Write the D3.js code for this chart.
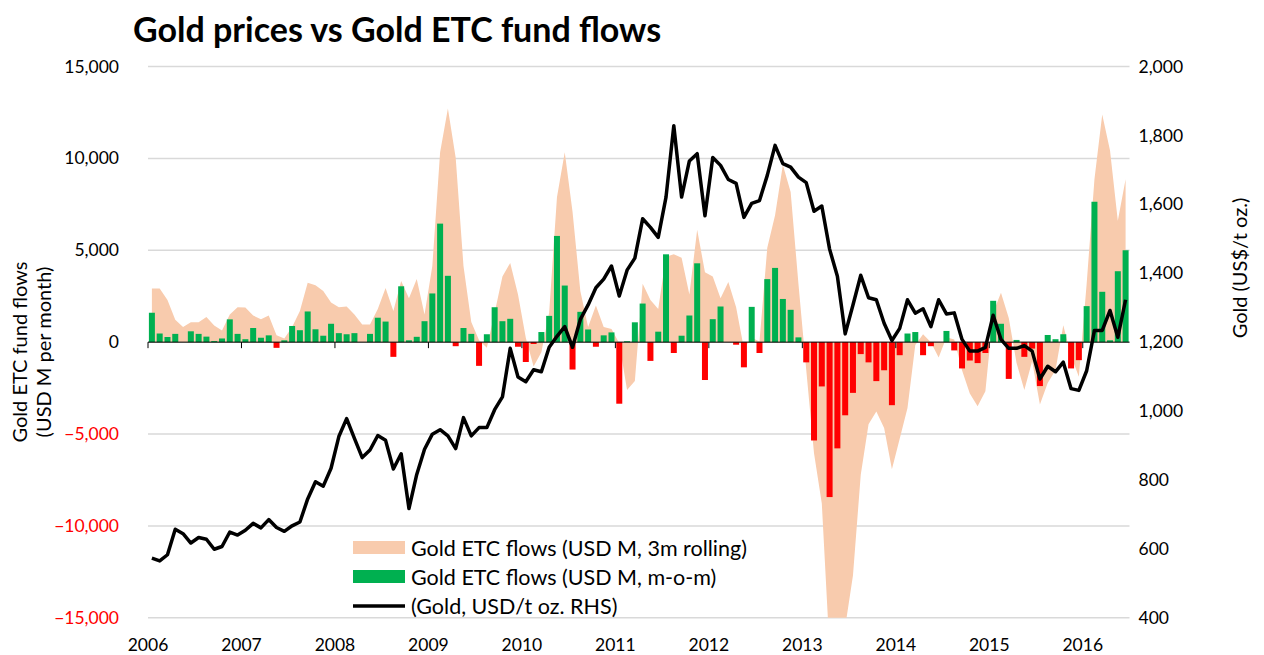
<!DOCTYPE html>
<html>
<head>
<meta charset="utf-8">
<script src="https://cdn.jsdelivr.net/npm/d3@7"></script>
<style>
  body { margin: 0; background: #fff; }
  svg { font-family: Lato, "Open Sans", sans-serif; }
</style>
</head>
<body>
<svg id="chart" width="1264" height="655"></svg>
<script>
// monthly data, Jan 2006 - Jun 2016
const years = ["2006", "2007", "2008", "2009", "2010", "2011", "2012", "2013", "2014", "2015", "2016"];

// Gold ETC flows, USD M, month on month
const flowsMoM = [
  1600, 470, 280, 450, 0, 590, 450, 300, 60, 200, 1240, 450,
  160, 770, 240, 370, -310, 100, 880, 650, 1670, 700, 350, 1000,
  490, 430, 490, 0, 450, 1330, 1120, -800, 3040, 100, 290, 1140,
  2650, 6450, 3610, -220, 770, 450, -1290, 430, 1900, 1140, 1270, -250,
  -1080, -100, 550, 1430, 5780, 3080, -1490, 1650, 690, -250, 370, 530,
  -3350, 50, 1080, 2100, -1020, 570, 4780, -590, 350, 1450, 4290, -2060,
  1250, 1940, 0, -140, -1370, 1920, -590, 3430, 4040, 2350, 1760, 260,
  -1100, -5350, -2410, -8430, -5780, -3980, -2760, -650, -1100, -2120, -1530, -3430,
  -710, 470, 550, -710, -220, 0, 610, -450, -1430, -1000, -1140, -590,
  2250, 1000, -2000, 120, -800, -350, -2390, 390, 160, 430, -1430, -980,
  1960, 7640, 2740, 100, 3860, 5000
];

// Gold ETC flows, USD M, 3m rolling
const flowsRolling = [
  2920, 2920, 2290, 1220, 820, 1080, 1080, 1370, 900, 630, 1510, 1900,
  1880, 1450, 1250, 1450, 370, 200, 820, 1700, 3230, 3100, 2780, 2160,
  1900, 1940, 1510, 960, 960, 1800, 2940, 1700, 3330, 2390, 3430, 1510,
  4150, 10330, 12720, 10030, 4150, 1100, 100, -300, 1600, 3570, 4310, 2590,
  240, -1330, -550, 1610, 7880, 10330, 7100, 2780, 820, 2000, 820, 720,
  -60, -2610, -2120, 3180, 2290, 1800, 4650, 4780, 4590, 2590, 6120, 3800,
  3570, 2390, 3270, 1900, -350, 240, 40, 5140, 6900, 9640, 8170, 3180,
  -1500, -6040, -8780, -16800, -17000, -15500, -12700, -7210, -4470, -3780, -4670, -6920,
  -5250, -3590, -160, 430, 0, -840, 270, 140, -1530, -2800, -3490, -2670,
  1610, 2690, 1310, -1140, -2610, -1040, -3390, -2220, -1530, 920, -750, -1880,
  3180, 8860, 12390, 10430, 6610, 8860
];

// Gold price, USD/t oz.
const goldPrice = [
  573, 565, 583, 657, 644, 617, 633, 628, 599, 607, 649, 640,
  654, 674, 661, 685, 662, 651, 667, 678, 745, 795, 782, 834,
  926, 978, 921, 865, 887, 929, 915, 832, 876, 717, 816, 889,
  933, 946, 928, 891, 981, 928, 952, 952, 1004, 1041, 1182, 1099,
  1085, 1120, 1114, 1185, 1217, 1245, 1185, 1266, 1308, 1358, 1383, 1421,
  1334, 1409, 1444, 1558, 1533, 1504, 1621, 1828, 1621, 1726, 1747, 1567,
  1736, 1713, 1672, 1661, 1562, 1603, 1611, 1684, 1771, 1718, 1708, 1679,
  1663, 1580, 1595, 1470, 1391, 1224, 1308, 1394, 1329, 1323, 1255, 1205,
  1240, 1323, 1284, 1297, 1245, 1323, 1282, 1285, 1208, 1174, 1174, 1185,
  1278, 1208, 1182, 1182, 1190, 1174, 1093, 1130, 1114, 1142, 1065, 1060,
  1117, 1234, 1234, 1292, 1214, 1323
];

const flowTicks = [15000, 10000, 5000, 0, -5000, -10000, -15000];
const goldTicks = [2000, 1800, 1600, 1400, 1200, 1000, 800, 600, 400];

const legendItems = ["Gold ETC flows (USD M, 3m rolling)", "Gold ETC flows (USD M, m-o-m)", "(Gold, USD/t oz. RHS)"];

const months = d3.timeMonth.range(new Date(2006, 0, 1), new Date(2016, 6, 1));
const rows = months.map((m, i) => ({ month: m, i: i, mom: flowsMoM[i], roll: flowsRolling[i], gold: goldPrice[i] }));

const svg = d3.select("#chart");
const plotLeft = 148, plotRight = 1129.5, plotTop = 66.5, plotBottom = 617.8;
const pad = 0.23;

const x = d3.scaleBand()
  .domain(rows.map(d => d.i))
  .range([plotLeft, plotRight])
  .paddingInner(pad)
  .paddingOuter(pad / 2);
const boundary = i => x(i) - x.step() * pad / 2;
const cx = i => x(i) + x.bandwidth() / 2;

const yFlow = d3.scaleLinear().domain([-15000, 15000]).range([plotBottom, plotTop]);
const yGold = d3.scaleLinear().domain([400, 2000]).range([plotBottom, plotTop]);

svg.append("defs").append("clipPath").attr("id", "plot")
  .append("rect").attr("x", plotLeft).attr("y", plotTop)
  .attr("width", plotRight - plotLeft).attr("height", plotBottom - plotTop);

// gridlines
svg.append("g")
  .selectAll("line")
  .data(flowTicks)
  .join("line")
  .attr("x1", plotLeft).attr("x2", plotRight)
  .attr("y1", d => yFlow(d)).attr("y2", d => yFlow(d))
  .attr("stroke", "#d9d9d9").attr("stroke-width", 1.5);

// 3m rolling area
const area = d3.area()
  .x(d => cx(d.i))
  .y0(yFlow(0))
  .y1(d => yFlow(d.roll));
svg.append("path")
  .datum(rows)
  .attr("clip-path", "url(#plot)")
  .attr("fill", "#f8cbad")
  .attr("d", area);

// m-o-m bars
svg.append("g")
  .selectAll("rect")
  .data(rows)
  .join("rect")
  .attr("x", d => x(d.i))
  .attr("width", x.bandwidth())
  .attr("y", d => yFlow(Math.max(0, d.mom)))
  .attr("height", d => Math.abs(yFlow(d.mom) - yFlow(0)))
  .attr("fill", d => d.mom < 0 ? "#ff0000" : "#00b050");

// zero axis with year ticks
const zero = svg.append("g");
zero.append("line")
  .attr("x1", plotLeft).attr("x2", plotRight)
  .attr("y1", yFlow(0)).attr("y2", yFlow(0))
  .attr("stroke", "#000").attr("stroke-width", 1);
zero.selectAll("line.tick")
  .data(years)
  .join("line")
  .attr("class", "tick")
  .attr("x1", (d, k) => boundary(k * 12)).attr("x2", (d, k) => boundary(k * 12))
  .attr("y1", yFlow(0)).attr("y2", yFlow(0) + 6)
  .attr("stroke", "#000").attr("stroke-width", 1);

// gold line
const line = d3.line()
  .x(d => cx(d.i))
  .y(d => yGold(d.gold));
svg.append("path")
  .datum(rows)
  .attr("fill", "none")
  .attr("stroke", "#000")
  .attr("stroke-width", 3.5)
  .attr("stroke-linejoin", "round")
  .attr("d", line);

// axis labels
const leftAxis = svg.append("g")
  .attr("transform", `translate(${plotLeft - 26},0)`)
  .call(d3.axisLeft(yFlow).tickValues(flowTicks).tickSize(0).tickFormat(d3.format(",")));
leftAxis.select(".domain").remove();
leftAxis.selectAll("text")
  .attr("font-size", 17.5).attr("font-family", "Lato, sans-serif")
  .attr("fill", d => d < 0 ? "#ff0000" : "#000");

const rightAxis = svg.append("g")
  .attr("transform", `translate(${plotRight + 6},0)`)
  .call(d3.axisRight(yGold).tickValues(goldTicks).tickSize(0).tickFormat(d3.format(",")));
rightAxis.select(".domain").remove();
rightAxis.selectAll("text")
  .attr("font-size", 17.5).attr("font-family", "Lato, sans-serif").attr("fill", "#000");

svg.append("g")
  .selectAll("text")
  .data(years)
  .join("text")
  .attr("x", (d, k) => boundary(k * 12))
  .attr("y", 651)
  .attr("text-anchor", "middle")
  .attr("font-size", 17.5)
  .text(d => d);

// axis titles
svg.append("text")
  .attr("transform", "translate(27,352) rotate(-90)")
  .attr("text-anchor", "middle")
  .attr("font-size", 20)
  .text("Gold ETC fund flows");
svg.append("text")
  .attr("transform", "translate(51,352) rotate(-90)")
  .attr("text-anchor", "middle")
  .attr("font-size", 20)
  .text("(USD M per month)");
svg.append("text")
  .attr("transform", "translate(1247,268) rotate(-90)")
  .attr("text-anchor", "middle")
  .attr("font-size", 20)
  .text("Gold (US$/t oz.)");

// title
svg.append("text")
  .attr("x", 133).attr("y", 42)
  .attr("font-size", 34)
  .attr("font-weight", "bold")
  .text("Gold prices vs Gold ETC fund flows");

// legend
const legend = svg.append("g").attr("transform", "translate(353,548)");
legendItems.forEach((t, k) => {
  const g = legend.append("g").attr("transform", `translate(0,${k * 29})`);
  if (k < 2) {
    g.append("rect").attr("x", 0).attr("y", -7).attr("width", 52).attr("height", 13)
      .attr("fill", k === 0 ? "#f8cbad" : "#00b050");
  } else {
    g.append("line").attr("x1", 0).attr("x2", 52).attr("y1", 0).attr("y2", 0)
      .attr("stroke", "#000").attr("stroke-width", 3.5);
  }
  g.append("text").attr("x", 58).attr("y", 7.5).attr("font-size", 21.5).text(t);
});
</script>
</body>
</html>
